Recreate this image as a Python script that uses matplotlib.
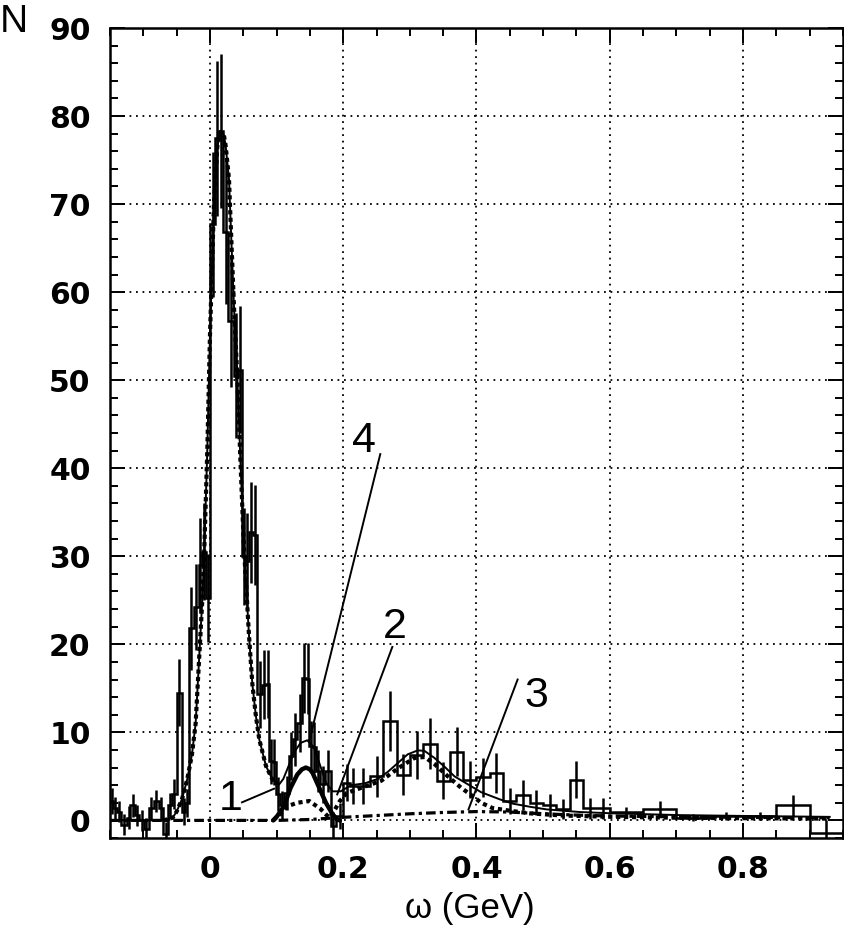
import matplotlib
matplotlib.use("Agg")
import matplotlib.pyplot as plt
import numpy as np

# ---------------- data ----------------
bin_edges = [-0.150, -0.145, -0.140, -0.133, -0.124, -0.120, -0.112, -0.106, -0.099, -0.092,
             -0.084, -0.077, -0.070, -0.063, -0.057, -0.050, -0.042, -0.037, -0.032, -0.024,
             -0.017, -0.012, -0.006, 0.000, 0.008, 0.014, 0.020, 0.027, 0.036, 0.042,
             0.048, 0.053, 0.059, 0.065, 0.071, 0.078, 0.084, 0.089, 0.094, 0.099,
             0.105, 0.111, 0.119, 0.125, 0.131, 0.138, 0.144, 0.149, 0.154, 0.159,
             0.165, 0.173, 0.181, 0.189, 0.200, 0.210, 0.220, 0.240, 0.260, 0.280,
             0.300, 0.320, 0.340, 0.360, 0.380, 0.400, 0.420, 0.440, 0.460, 0.480,
             0.500, 0.520, 0.540, 0.560, 0.580, 0.600, 0.650, 0.700, 0.750, 0.800,
             0.850, 0.900, 0.950]

counts = [2.2, 1.4, 1.0, -0.5, 0.3, 1.7, 0.6, 0.0, -1.0, 1.4,
          2.2, 1.4, -1.6, 1.7, 3.0, 14.5, 1.0, 2.0, 21.8, 24.2,
          29.0, 30.5, 25.3, 67.7, 77.5, 78.3, 66.8, 56.7, 50.5, 51.2,
          30.0, 29.5, 32.7, 32.4, 14.3, 15.4, 15.5, 6.7, 6.6, 3.0,
          1.7, 3.1, 7.3, 9.2, 11.1, 16.2, 16.1, 8.4, 8.3, 5.6,
          4.1, 5.6, -0.6, 0.5, 4.3, 3.9, 3.9, 5.0, 11.3, 5.2,
          7.4, 8.7, 4.5, 7.8, 4.6, 4.9, 5.4, 2.2, 2.9, 2.0,
          1.7, 1.3, 4.6, 1.4, 1.4, 0.9, 1.3, 0.3, 0.5, 0.5,
          1.7, -1.4]

count_errors = [1.5, 1.3, 1.2, 1.2, 1.3, 1.3, 1.2, 1.2, 1.3, 1.3,
                1.3, 1.3, 1.4, 1.4, 1.7, 3.8, 1.5, 1.6, 4.7, 4.9,
                5.4, 5.5, 5.0, 8.2, 8.8, 8.8, 8.2, 7.5, 7.1, 7.2,
                5.5, 5.4, 5.7, 5.7, 3.8, 3.9, 3.9, 2.6, 2.6, 1.9,
                1.6, 1.9, 2.7, 3.0, 3.3, 4.0, 4.0, 2.9, 2.9, 2.4,
                2.1, 2.4, 1.5, 1.5, 2.1, 2.0, 2.0, 2.3, 3.4, 2.3,
                2.7, 2.9, 2.1, 2.8, 2.1, 2.2, 2.3, 1.5, 1.7, 1.4,
                1.3, 1.1, 2.1, 1.2, 1.2, 0.6, 0.9, 0.4, 0.5, 0.5,
                1.2, 1.4]

# curve 1: main peak component (dotted)
peak1_x = [-0.070, -0.056, -0.050, -0.042, -0.034, -0.027, -0.0215, -0.0165, -0.0115, -0.009,
           -0.004, 0.000, 0.006, 0.011, 0.016, 0.021, 0.0236, 0.0286, 0.031, 0.036,
           0.041, 0.046, 0.051, 0.0586, 0.0636, 0.0687, 0.074, 0.084, 0.094, 0.101]
peak1_y = [0.0, 0.3, 1.0, 2.4, 4.7, 7.5, 11.0, 18.0, 25.0, 29.5,
           42.0, 55.0, 70.0, 76.5, 78.2, 77.8, 76.6, 72.8, 68.0, 58.5,
           50.5, 40.3, 31.0, 21.0, 15.5, 12.0, 9.2, 6.2, 4.6, 4.2]

# total fit (thin solid), tail beyond the main peak
total_tail_x = [0.104, 0.110, 0.116, 0.126, 0.136, 0.146, 0.156, 0.166, 0.174, 0.184,
                0.196, 0.212, 0.232, 0.2516, 0.2667, 0.2817, 0.2967, 0.3118, 0.3218, 0.3368,
                0.352, 0.367, 0.387, 0.407, 0.4346, 0.4546, 0.480, 0.505, 0.555, 0.605,
                0.705, 0.805, 0.930]
total_tail_y = [4.1, 4.7, 5.8, 7.7, 8.8, 9.1, 8.3, 6.1, 4.3, 3.3,
                3.3, 4.0, 4.2, 4.7, 5.5, 6.5, 7.5, 7.95, 7.9, 7.1,
                6.1, 5.0, 4.1, 3.2, 2.4, 1.9, 1.55, 1.25, 0.95, 0.8,
                0.6, 0.5, 0.4]
total_head_x = [-0.150, -0.070]
total_head_y = [0.0, 0.0]

# curve 2: broad component (thick dotted)
comp2_x = [0.095, 0.105, 0.116, 0.131, 0.149, 0.166, 0.179, 0.185, 0.195, 0.205,
           0.227, 0.257, 0.282, 0.307, 0.322, 0.337, 0.357, 0.377, 0.397, 0.407,
           0.424, 0.450, 0.480, 0.530, 0.605, 0.705, 0.800, 0.930]
comp2_y = [0.0, 0.7, 1.6, 2.0, 2.2, 1.3, 0.3, 0.9, 2.2, 3.1,
           3.7, 4.5, 5.9, 7.1, 7.2, 6.4, 5.0, 3.7, 2.6, 2.0,
           1.4, 1.1, 0.8, 0.55, 0.4, 0.3, 0.25, 0.2]

# curve 3: background (dash-dot)
comp3_x = [-0.150, 0.100, 0.150, 0.200, 0.250, 0.300, 0.350, 0.400, 0.450, 0.500,
           0.550, 0.600, 0.700, 0.800, 0.930]
comp3_y = [0.0, 0.0, 0.1, 0.35, 0.55, 0.75, 0.9, 1.0, 0.95, 0.75,
           0.6, 0.5, 0.4, 0.35, 0.3]

# curve 4: narrow peak near 0.145 (thick solid)
comp4_x = [0.095, 0.101, 0.111, 0.121, 0.131, 0.138, 0.144, 0.150, 0.154, 0.164,
           0.174, 0.184, 0.191, 0.195]
comp4_y = [0.0, 0.5, 1.6, 3.7, 5.2, 5.8, 6.0, 5.8, 5.4, 3.7,
           2.0, 0.7, 0.1, 0.0]

# curve labels: text, text position, pointer start, pointer end
label_texts = ["1", "2", "3", "4"]
label_pos = [(0.0316, 2.4), (0.278, 22.0), (0.490, 14.1), (0.2316, 43.1)]
pointer_from = [(0.0481, 2.05), (0.2737, 19.7), (0.4617, 16.0), (0.2556, 41.6)]
pointer_to = [(0.0962, 3.6), (0.191, 2.95), (0.388, 1.25), (0.1489, 9.0)]

x_major = [0.0, 0.2, 0.4, 0.6, 0.8]
x_labels = ["0", "0.2", "0.4", "0.6", "0.8"]
y_major = [0, 10, 20, 30, 40, 50, 60, 70, 80, 90]
y_labels = ["0", "10", "20", "30", "40", "50", "60", "70", "80", "90"]

# ---------------- figure ----------------
W, H = 845, 926
fig = plt.figure(figsize=(W / 100, H / 100), dpi=100)
ax = fig.add_axes([110 / W, 1 - 838 / H, (843 - 110) / W, (838 - 28) / H])
ax.set_xlim(-0.15, 0.95)
ax.set_ylim(-2, 90)

# grid
ax.set_axisbelow(True)
ax.grid(True, which="major", color="black", linestyle=(0, (1, 2.6)), linewidth=1.3)

# histogram
edges = np.array(bin_edges)
vals = np.array(counts)
errs = np.array(count_errors)
centers = 0.5 * (edges[:-1] + edges[1:])
ax.stairs(vals, edges, baseline=None, color="black", linewidth=1.8, zorder=3)
mask = errs > 0
ax.errorbar(centers[mask], vals[mask], yerr=errs[mask], fmt="none", ecolor="black",
            elinewidth=1.8, capsize=0, zorder=3)

# curves
ax.plot(comp3_x, comp3_y, color="black", linewidth=2.3, linestyle=(0, (3, 1.3, 1, 1.3)), zorder=4)
ax.plot(comp2_x, comp2_y, color="black", linewidth=3.0, linestyle=(0, (1, 0.9)), zorder=4)
ax.plot(comp4_x, comp4_y, color="black", linewidth=3.2, solid_capstyle="round", zorder=5)
ax.plot(peak1_x, peak1_y, color="black", linewidth=3.0, linestyle=(0, (1, 0.8)), zorder=4)
ax.plot(total_head_x + peak1_x[1:] + total_tail_x, total_head_y + peak1_y[1:] + total_tail_y,
        color="black", linewidth=1.4, zorder=5)

# labels with pointers
for t, p, a, b in zip(label_texts, label_pos, pointer_from, pointer_to):
    ax.plot([a[0], b[0]], [a[1], b[1]], color="black", linewidth=1.4, zorder=6)
    ax.text(p[0], p[1], t, fontsize=31, family="Liberation Sans", ha="center", va="center", zorder=6)

# ticks
ax.set_xticks(x_major)
ax.set_xticklabels(x_labels)
ax.set_yticks(y_major)
ax.set_yticklabels(y_labels)
ax.set_xticks(np.arange(-0.15, 0.951, 0.05), minor=True)
ax.set_yticks(np.arange(-2, 90.1, 2), minor=True)
ax.tick_params(which="both", direction="in", top=True, right=True, width=1.4, color="black")
ax.tick_params(which="major", length=11)
ax.tick_params(which="minor", length=5.5)
ax.tick_params(axis="x", which="major", pad=12)
ax.tick_params(axis="y", which="major", pad=14)
for lab in ax.get_xticklabels() + ax.get_yticklabels():
    lab.set_fontfamily("DejaVu Sans")
    lab.set_fontweight("bold")
    lab.set_fontsize(21.5)
for s in ax.spines.values():
    s.set_linewidth(1.8)

fig.text(0.0, 1 - 32 / H, "N", fontsize=28, family="Liberation Sans", ha="left", va="baseline")
fig.text(470 / W, 1 - 918 / H, "ω (GeV)", fontsize=25, family="Liberation Sans", ha="center", va="baseline")

fig.savefig("out.png", dpi=100)
